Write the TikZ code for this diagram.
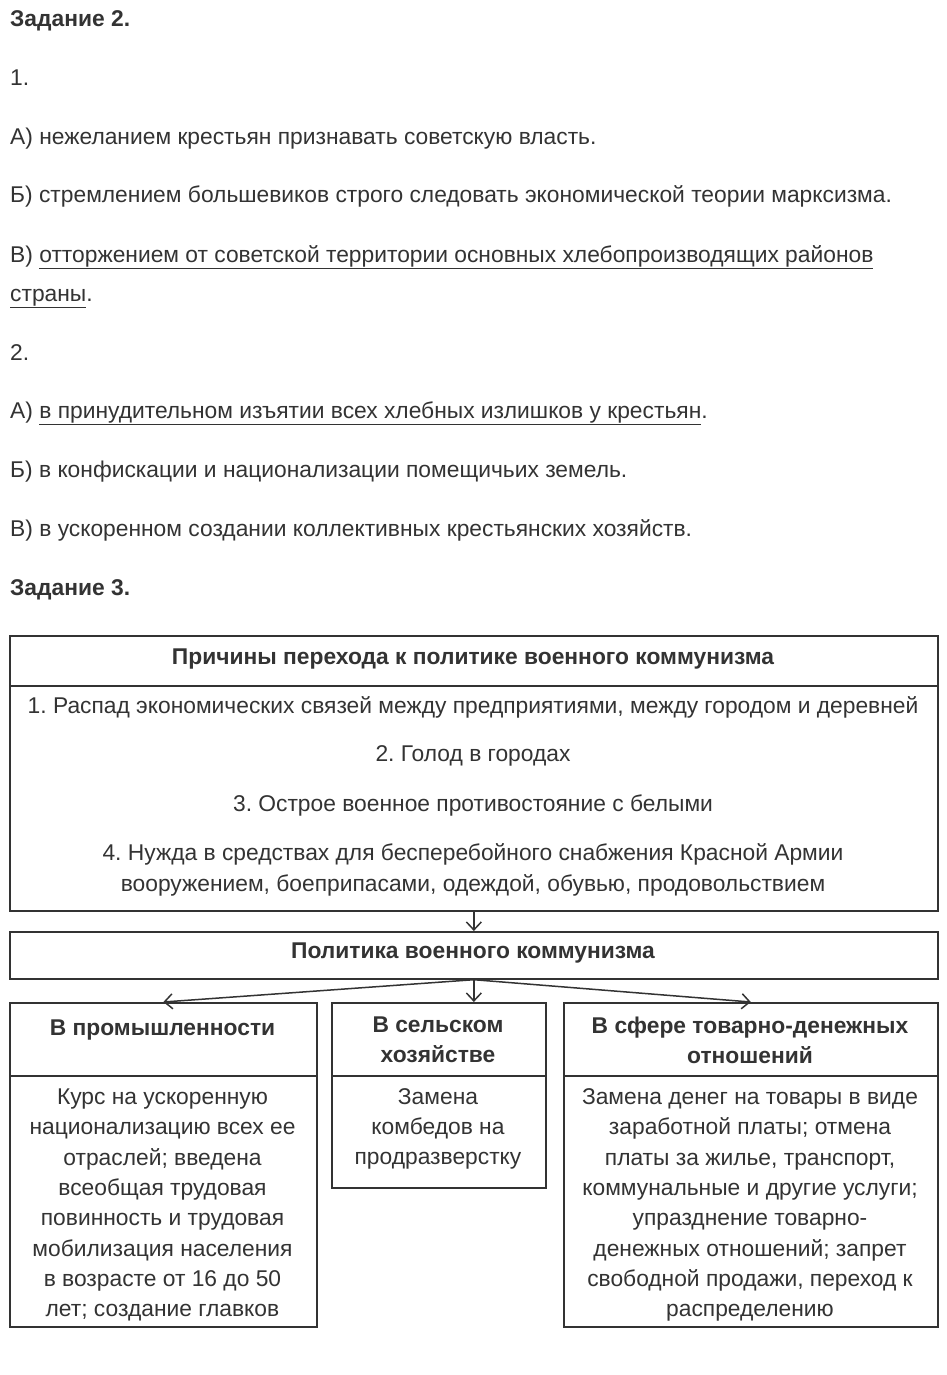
\documentclass[tikz,border=0pt]{standalone}
\usepackage{fontspec}
\setmainfont{Liberation Sans}
\usetikzlibrary{arrows.meta}
\definecolor{ink}{HTML}{333333}
\frenchspacing
\begin{document}
\begin{tikzpicture}[x=1pt,y=-1pt,
  every node/.style={text=ink, inner sep=0pt},
  para/.style={anchor=base west, font=\fontsize{22.8}{30}\selectfont},
  parahead/.style={anchor=base west, font=\bfseries\fontsize{22.8}{30}\selectfont},
  head/.style={align=center, font=\bfseries\fontsize{22.8}{30.3}\selectfont},
  cell/.style={align=center, font=\fontsize{22.8}{30.3}\selectfont},
  box/.style={draw=ink, line width=1.7pt, rectangle, anchor=north west},
  arr/.style={draw=ink, line width=1.5pt, -{Straight Barb[length=8pt,width=15pt]}}
]
\useasboundingbox[fill=white] (0,0) rectangle (946,1375);

% Task 2
\node[parahead] (z2) at (10,27) {Задание 2.};
\node[para] (q1) at (10,86) {1.};
\node[para] (q1a) at (10,145) {А) нежеланием крестьян признавать советскую власть.};
\node[para] (q1b) at (10,203) {Б) стремлением большевиков строго следовать экономической теории марксизма.};
\node[para] (q1c) at (10,262) {В) \underline{отторжением от советской территории основных хлебопроизводящих районов}};
\node[para] (q1d) at (10,301) {\underline{страны}.};
\node[para] (q2) at (10,360) {2.};
\node[para] (q2a) at (10,418) {А) \underline{в принудительном изъятии всех хлебных излишков у крестьян}.};
\node[para] (q2b) at (10,477) {Б) в конфискации и национализации помещичьих земель.};
\node[para] (q2c) at (10,536) {В) в ускоренном создании коллективных крестьянских хозяйств.};
\node[parahead] (z3) at (10,595) {Задание 3.};

% Boxes
\node[box, minimum width=928pt, minimum height=50pt] (cauh) at (9,635) {};
\node[box, minimum width=928pt, minimum height=225pt] (caub) at (9,685) {};
\node[box, minimum width=928pt, minimum height=47pt] (pol) at (9,931) {};
\node[box, minimum width=307pt, minimum height=73pt] (indh) at (9,1002) {};
\node[box, minimum width=307pt, minimum height=251pt] (indb) at (9,1075) {};
\node[box, minimum width=214pt, minimum height=73pt] (agrh) at (331,1002) {};
\node[box, minimum width=214pt, minimum height=112pt] (agrb) at (331,1075) {};
\node[box, minimum width=374pt, minimum height=73pt] (trdh) at (563,1002) {};
\node[box, minimum width=374pt, minimum height=251pt] (trdb) at (563,1075) {};

% Arrows
\draw[arr] (caub.south) -- (pol.north);
\draw[arr] (pol.south) -- (indh.north);
\draw[arr] (pol.south) -- (pol.south |- agrh.north);
\draw[arr] (pol.south) -- (trdh.north);

% Texts in boxes
\node[head] (cauht) at (473,659) {Причины перехода к политике военного коммунизма};
\node[cell] (c1) at (473,707) {1. Распад экономических связей между предприятиями, между городом и деревней};
\node[cell] (c2) at (473,756) {2. Голод в городах};
\node[cell] (c3) at (473,805) {3. Острое военное противостояние с белыми};
\node[cell] (c4) at (473,870) {4. Нужда в средствах для бесперебойного снабжения Красной Армии\\вооружением, боеприпасами, одеждой, обувью, продовольствием};
\node[head] (polt) at (473,953) {Политика военного коммунизма};
\node[head] (indht) at (162.5,1030) {В промышленности};
\node[head] (agrht) at (438,1040) {В сельском\\хозяйстве};
\node[head] (trdht) at (750,1040) {В сфере товарно-денежных\\отношений};
\node[cell] (indbt) at (162.5,1205) {Курс на ускоренную\\национализацию всех ее\\отраслей; введена\\всеобщая трудовая\\повинность и трудовая\\мобилизация населения\\в возрасте от 16 до 50\\лет; создание главков};
\node[cell] (agrbt) at (438,1129) {Замена\\комбедов на\\продразверстку};
\node[cell] (trdbt) at (750,1205) {Замена денег на товары в виде\\заработной платы; отмена\\платы за жилье, транспорт,\\коммунальные и другие услуги;\\упразднение товарно-\\денежных отношений; запрет\\свободной продажи, переход к\\распределению};
\end{tikzpicture}
\end{document}
